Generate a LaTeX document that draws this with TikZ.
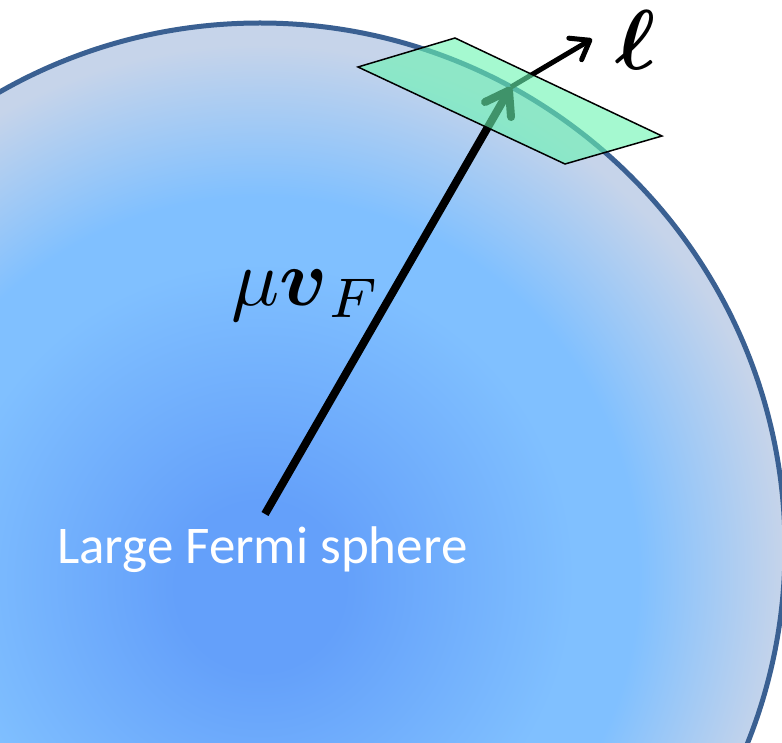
\documentclass[tikz,border=0pt]{standalone}
\usepackage{amsmath}
\usepackage{fontspec}
\newfontfamily\carlito{Carlito}
\usetikzlibrary{arrows.meta}
\definecolor{cA}{RGB}{100,160,250}
\definecolor{cB}{RGB}{128,192,255}
\definecolor{cC}{RGB}{198,212,234}
\definecolor{rim}{RGB}{58,96,146}
\definecolor{planeg}{RGB}{105,245,177}
\pgfdeclareradialshading{fermi}{\pgfpoint{0bp}{-2bp}}{color(0bp)=(cA); color(4bp)=(cA); color(15bp)=(cB); color(18bp)=(cB); color(25bp)=(cC); color(50bp)=(cC)}
\begin{document}
\begin{tikzpicture}[x=1pt,y=-1pt,
  vecarrow/.style={line width=8pt,-{Straight Barb[round,length=22pt,width=30pt]}},
  ellarrow/.style={line width=5pt,-{Straight Barb[round,length=17pt,width=25pt]}},
  plane/.style={draw=black,line width=1.5pt,fill=planeg,fill opacity=0.6}]
\clip (0,0) rectangle (782,743);
\path[shading=fermi] (260,548) circle[radius=525];
\draw[rim, line width=5pt] (260,548) circle[radius=525];
\coordinate (O) at (265,514);
\coordinate (T) at (511,87);
\coordinate (L) at (592,39);
\draw[vecarrow] (O) -- (T);
\draw[ellarrow] (T) -- (L);
\draw[plane] (358,67) -- (455,38) -- (662,136) -- (565,164) -- cycle;
\node[anchor=base west, scale=8, inner sep=0] (mu) at (230,306) {$\mu\boldsymbol{v}_F$};
\node[anchor=base west, scale=8.5, inner sep=0] (ell) at (614,70) {$\boldsymbol{\ell}$};
\node[anchor=base west, inner sep=0, text=white, font=\carlito\fontsize{53}{60}\selectfont] (lbl) at (57,563) {Large Fermi sphere};
\end{tikzpicture}
\end{document}
